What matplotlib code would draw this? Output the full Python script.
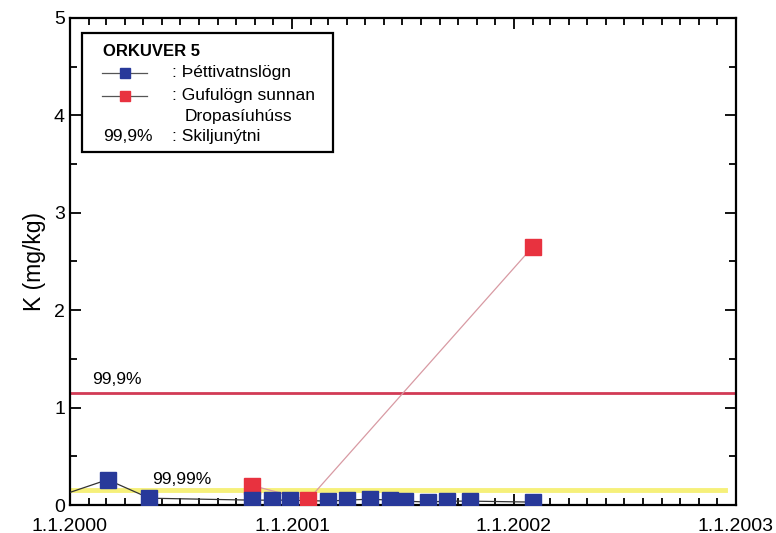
import matplotlib
matplotlib.use("Agg")
import matplotlib.pyplot as plt
import matplotlib.dates as mdates
from matplotlib.lines import Line2D
from matplotlib.patches import Rectangle
import numpy as np
import pandas as pd

plt.rcParams["font.family"] = ["Liberation Sans", "DejaVu Sans"]

# Þéttivatnslögn (condensate line) samples
blue_dates = ["1999-11-15", "2000-03-03", "2000-05-11", "2000-10-27", "2000-11-28",
              "2000-12-28", "2001-03-01", "2001-04-01", "2001-05-09", "2001-06-11",
              "2001-07-05", "2001-08-12", "2001-09-13", "2001-10-20", "2002-02-01"]
blue_k = [0.03, 0.26, 0.07, 0.05, 0.05, 0.05, 0.04, 0.05, 0.06, 0.05,
          0.04, 0.03, 0.04, 0.04, 0.03]

# Gufulögn sunnan Dropasíuhúss (steam line) samples
red_dates = ["2000-10-27", "2001-01-27", "2002-02-01"]
red_k = [0.20, 0.05, 2.65]

# separator efficiency limits
limit_999 = 1.15
limit_9999 = 0.15

blue_dates = pd.to_datetime(blue_dates)
red_dates = pd.to_datetime(red_dates)
x_start = pd.Timestamp("2000-01-01")
x_end = pd.Timestamp("2003-01-01")

fig = plt.figure(figsize=(7.76, 5.33), dpi=100)
ax = fig.add_axes([0.090, 0.0525, 0.858, 0.914])

# limit lines
ax.axhline(limit_999, color="#d23a55", lw=2.0, zorder=2)
ax.plot([x_start, pd.Timestamp("2002-12-15")], [limit_9999, limit_9999],
        color="#f6f07a", lw=3.5, zorder=2)
ax.text(pd.Timestamp("2000-02-06"), limit_999 + 0.06, "99,9%", fontsize=12.5,
        va="bottom", ha="left")
ax.text(pd.Timestamp("2000-05-15"), limit_9999 + 0.04, "99,99%", fontsize=12.5,
        va="bottom", ha="left")

# series
ax.plot(red_dates, red_k, color="#d89aa3", lw=0.9, zorder=3)
ax.plot(red_dates, red_k, ls="none", marker="s", ms=11.5, mfc="#e8323f",
        mec="#e8323f", zorder=4)
ax.plot(blue_dates, blue_k, color="#333333", lw=0.9, zorder=3)
ax.plot(blue_dates, blue_k, ls="none", marker="s", ms=11, mfc="#28399a",
        mec="#28399a", zorder=5)

ax.set_xlim(x_start, x_end)
ax.set_ylim(0, 5)

ax.xaxis.set_major_locator(mdates.YearLocator())
ax.xaxis.set_minor_locator(mdates.MonthLocator())
ax.xaxis.set_major_formatter(mdates.DateFormatter("1.1.%Y"))
ax.set_yticks(np.arange(0, 6, 1))
ax.set_yticks(np.arange(0, 5.01, 0.5), minor=True)

ax.tick_params(which="both", direction="in", top=True, right=True,
               labelsize=14, width=1.3)
ax.tick_params(which="major", length=8)
ax.tick_params(which="minor", length=5)
ax.tick_params(axis="x", pad=9)
for s in ax.spines.values():
    s.set_linewidth(1.6)

ax.set_ylabel("K (mg/kg)", fontsize=16.5, labelpad=6)

# legend box
tr = ax.transAxes
ax.add_patch(Rectangle((0.018, 0.725), 0.377, 0.244, transform=tr, fill=False,
                       lw=1.6, ec="black", zorder=6))
ax.text(0.050, 0.930, "ORKUVER 5", transform=tr, fontsize=12,
        fontweight="bold", va="center")
for y, c in [(0.887, "#28399a"), (0.840, "#e8323f")]:
    ax.add_line(Line2D([0.048, 0.116], [y, y], transform=tr, color="#555555",
                       lw=0.9, zorder=7))
    ax.add_line(Line2D([0.083], [y], transform=tr, ls="none", marker="s",
                       ms=7.5, mfc=c, mec=c, zorder=8))
ax.text(0.153, 0.887, ": Þéttivatnslögn", transform=tr, fontsize=12.5, va="center")
ax.text(0.153, 0.840, ": Gufulögn sunnan", transform=tr, fontsize=12.5, va="center")
ax.text(0.173, 0.797, "Dropasíuhúss", transform=tr, fontsize=12.5, va="center")
ax.text(0.050, 0.756, "99,9%", transform=tr, fontsize=12.5, va="center")
ax.text(0.153, 0.756, ": Skiljunýtni", transform=tr, fontsize=12.5, va="center")

fig.savefig("out.png", dpi=100)
